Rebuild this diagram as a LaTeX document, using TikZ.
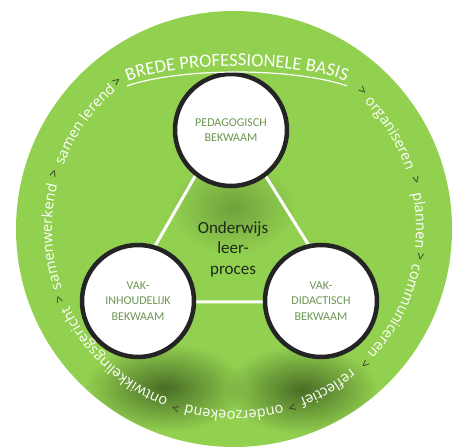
\documentclass[tikz,border=0pt]{standalone}
\usepackage{fontspec}
\setmainfont{Carlito}
\newfontfamily\ringfont{Open Sans}
\usetikzlibrary{decorations.text,fadings}

\definecolor{ringgreen}{RGB}{146,208,80}
\definecolor{labelgreen}{RGB}{108,150,82}
\definecolor{darkrim}{RGB}{36,36,36}
\definecolor{coretext}{RGB}{28,42,24}
\definecolor{shadowgreen}{RGB}{60,92,30}

\newcommand\ringtxt{\ringfont\fontsize{14.5}{16}\selectfont\color{white}}
\newcommand\basistxt{\fontsize{18.5}{19}\selectfont\color{white}}

\tikzfading[name=softblob, inner color=transparent!0, outer color=transparent!100]

\tikzset{every picture/.style={line width=0.75pt}}
\tikzset{
  comp/.style={circle, draw=darkrim, line width=4.5pt, fill=white, minimum size=112pt,
    inner sep=0pt, align=center, text=labelgreen, font=\fontsize{12}{15.5}\selectfont},
  core/.style={align=center, text=coretext, inner sep=0.75pt, font=\fontsize{17}{20.5}\selectfont},
  edge/.style={draw=white, line width=3pt},
  blob/.style={fill=shadowgreen, path fading=softblob, fill opacity=#1},
  sepmark/.style={text=black!80, inner sep=0pt, font=\ringfont\fontsize{13}{13}\selectfont},
  ringword/.style={decorate, decoration={text along path, text align=center, text={|\ringtxt|#1}}}
}

\begin{document}
\begin{tikzpicture}[x=1pt,y=1pt]
\useasboundingbox (0,0) rectangle (459,448);

%Shape: Big disc
\coordinate (C) at (234,219);
\fill [ringgreen] (C) circle (218);

%Shadows
\begin{scope}
\clip (C) circle (218);
\path [blob=0.4] (233,240) ellipse [x radius=62, y radius=46];
\path [blob=0.85] (165,60) ellipse [x radius=80, y radius=44];
\path [blob=0.85] (302,58) ellipse [x radius=76, y radius=44];
\end{scope}

%Triangle
\coordinate (ta) at (229,331);
\coordinate (tl) at (123,146);
\coordinate (tr) at (344,146);
\draw [edge] (ta) -- (tl) -- (tr) -- cycle;

%Shape: Circles
\node [comp] (ped) at (231,318) {PEDAGOGISCH\\BEKWAAM};
\node [comp] (inh) at (138,147) {VAK-\\INHOUDELIJK\\BEKWAAM};
\node [comp] (did) at (321,147) {VAK-\\DIDACTISCH\\BEKWAAM};

% Text Node
\node [core] (proc) at (233,199) {Onderwijs\\leer-\\proces};

%Title along arch
\begin{scope}[shift={(237,352)}]
\path [decorate, decoration={text along path, text align=center, text={|\basistxt|BREDE PROFESSIONELE BASIS}}]
  (165:125 and 30) arc [start angle=165, end angle=15, x radius=125, y radius=30];
\end{scope}
\begin{scope}[shift={(237,343)}]
\draw [white, line width=1.2pt] (144.6:135 and 33) arc [start angle=144.6, end angle=35.4, x radius=135, y radius=33];
\end{scope}

%Ring words
\begin{scope}[shift={(C)}]
\foreach \ang/\word in {31.5/organiseren, 2.5/plannen, -27/communiceren, -59.5/reflectief,
    -90/onderzoekend, -133/ontwikkelingsgericht, -177.5/samenwerkend, 145/samen lerend}{
  \path [ringword=\word] (\ang+50:182) arc [start angle=\ang+50, end angle=\ang-50, radius=182];
}
% separators
\foreach \ang [count=\i] in {47, 15, -8.5, -46, -72, -108, -158, 163, 128.5}{
  \node [sepmark, rotate=\ang-90] (sep\i) at (\ang:188) {>};
}
\end{scope}

\end{tikzpicture}
\end{document}
